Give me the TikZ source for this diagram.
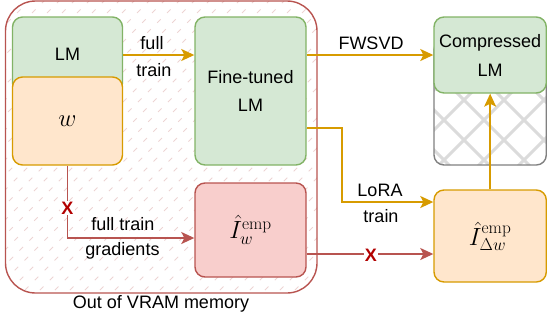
\documentclass[tikz,border=0pt]{standalone}
\usepackage[no-math]{fontspec}
\setmainfont{Liberation Sans}
\usetikzlibrary{arrows.meta,calc}

\definecolor{gfill}{HTML}{D5E8D4}
\definecolor{gline}{HTML}{82B366}
\definecolor{ofill}{HTML}{FFE6CC}
\definecolor{oline}{HTML}{D79B00}
\definecolor{rfill}{HTML}{F8CECC}
\definecolor{rline}{HTML}{B85450}
\definecolor{xred}{HTML}{B20000}

\tikzset{
  box/.style={draw, rounded corners=10pt, line width=1.4pt, inner sep=0pt, align=center},
  greenbox/.style={box, fill=gfill, draw=gline},
  orangebox/.style={box, fill=ofill, draw=oline},
  redbox/.style={box, fill=rfill, draw=rline},
  mathtxt/.style={font=\fontsize{24}{28}\selectfont},
  txt/.style={inner sep=1pt, align=center},
  flow/.style={line width=1.5pt, -{Stealth[length=13pt,width=12pt,inset=3pt]}},
  oflow/.style={flow, draw=oline},
  rflow/.style={flow, draw=rline},
  cross/.style={text=xred, font=\fontsize{18}{20}\selectfont\bfseries, fill=white, inner sep=1pt},
}

\begin{document}
\begin{tikzpicture}[x=1pt, y=-1pt, font=\fontsize{18}{22}\selectfont]
\useasboundingbox (0,0) rectangle (547,322);

% memory region with faint dashed hatching
\begin{scope}
  \clip[rounded corners=30pt] (5.5,1) rectangle (317,293);
  \foreach \i in {-420,-405,...,330}
    \draw[rline!25, line width=1pt, dash pattern=on 5pt off 9pt] (\i,300) -- ++(330,-330);
\end{scope}
\draw[rline, line width=1.4pt, rounded corners=30pt] (5.5,1) rectangle (317,293);
\node[txt] (mem) at (161,304) {Out of VRAM memory};

% base model and its weights
\node[greenbox, minimum width=110pt, minimum height=76pt] (lm) at (67.5,55) {};
\node[txt] (lmtxt) at (67.5,54) {LM};
\node[orangebox, mathtxt, minimum width=110pt, minimum height=88pt] (w) at (67.5,121) {$w$};

% fine-tuned model and its Fisher estimate
\node[greenbox, minimum width=111pt, minimum height=148pt] (ft) at (250.5,91) {Fine-tuned\\[6pt]LM};
\node[redbox, mathtxt, minimum width=111pt, minimum height=94pt] (iw) at (250.5,230) {$\hat{I}_w^{\mathrm{emp}}$};

% compressed model over a cross-hatched block
\begin{scope}
  \clip[rounded corners=10pt] (434,40) rectangle (546.3,165);
  \foreach \i in {244,284,...,604}
    \draw[gray!28, line width=3pt] (\i,0) -- ++(220,220);
  \foreach \i in {404,444,...,764}
    \draw[gray!28, line width=3pt] (\i,0) -- ++(-220,220);
\end{scope}
\draw[gray, line width=1.4pt, rounded corners=10pt] (434,40) rectangle (546.3,165);
\node[greenbox, minimum width=112.3pt, minimum height=76pt] (comp) at (490.15,55) {Compressed\\[7pt]LM};

\node[orangebox, mathtxt, minimum width=112.3pt, minimum height=92pt] (idw) at (490.15,236) {$\hat{I}_{\Delta w}^{\mathrm{emp}}$};

% connectors
\draw[oflow] (lm.east) -- (lm.east -| ft.west);
\node[txt] (ftl1) at (152,43) {full};
\node[txt] (ftl2) at (154,70) {train};

\draw[oflow] (ft.east |- comp.west) -- (comp.west);
\node[txt] (fw) at (371,43) {FWSVD};

\coordinate (lorabend) at (342,202);
\draw[oflow] (ft.east |- 0,128) -| (lorabend) -- (idw.west |- lorabend);
\node[txt] (lo1) at (380,190) {LoRA};
\node[txt] (lo2) at (381,216) {train};

\draw[oflow] (idw.north) -- (comp.south);

\coordinate (gbend) at (67.5,238);
\draw[rflow] (w.south) -- (gbend) -- (iw.west |- gbend);
\node[cross] (x1) at (67.5,208) {X};
\node[txt] (gl1) at (123,224) {full train};
\node[txt] (gl2) at (122.5,251) {gradients};

\draw[rflow] (iw.east |- 0,254) -- (idw.west |- 0,254);
\node[cross] (x2) at (371,255) {X};
\end{tikzpicture}
\end{document}
